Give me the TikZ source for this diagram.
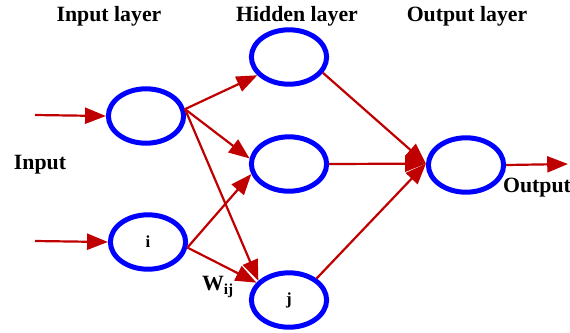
\documentclass[tikz,border=0pt]{standalone}
\usepackage{fontspec}
\setmainfont{Liberation Serif}
\usepackage{xcolor}
\usetikzlibrary{arrows.meta,shapes.geometric}
\definecolor{wirered}{RGB}{192,0,0}
\definecolor{cellblue}{RGB}{0,0,255}

\begin{document}
\begin{tikzpicture}[x=0.025cm, y=-0.025cm,
  every node/.style={font=\fontsize{15.5}{18}\selectfont\bfseries},
  neuron/.style={ellipse, draw=cellblue, line width=0.125cm, minimum width=1.88cm, minimum height=1.36cm, inner sep=0pt},
  wire/.style={draw=wirered, line width=0.055cm, -{Triangle[length=0.52cm,width=0.4cm]}}]
\useasboundingbox (0,0) rectangle (570,332);

% neurons
\node[neuron] (in1) at (146,116) {};
\node[neuron, font=\fontsize{12}{14}\selectfont\bfseries] (in2) at (148,242) {i};
\node[neuron] (hid1) at (289,57) {};
\node[neuron] (hid2) at (289,164) {};
\node[neuron, font=\fontsize{12}{14}\selectfont\bfseries] (hid3) at (289,300) {j};
\node[neuron] (out) at (466,165) {};

% labels
\node (inlayer) at (109,16) {Input layer};
\node (hidlayer) at (297,16) {Hidden layer};
\node (outlayer) at (467,16) {Output layer};
\node (inlabel) at (40,165) {Input};
\node (outlabel) at (537,188) {Output};
\node (weight) at (218,287) {W\textsubscript{ij}};

\coordinate (src1) at (35,115);
\coordinate (src2) at (35,241);
\coordinate (sink) at (568,164);

% connections
\draw[wire] (src1) -- (in1.west);
\draw[wire] (src2) -- (in2.west);
\draw[wire] (in1.10) -- (hid1.210);
\draw[wire] (in1.10) -- (hid2.172);
\draw[wire] (in1.10) -- (hid3.148);
\draw[wire] (in2.352) -- (hid2.195);
\draw[wire] (in2.352) -- (hid3.152);
\draw[wire] (hid1.335) -- (out.178);
\draw[wire] (hid2.east) -- (out.178);
\draw[wire] (hid3.38) -- (out.178);
\draw[wire] (out.east) -- (sink);
\end{tikzpicture}
\end{document}
